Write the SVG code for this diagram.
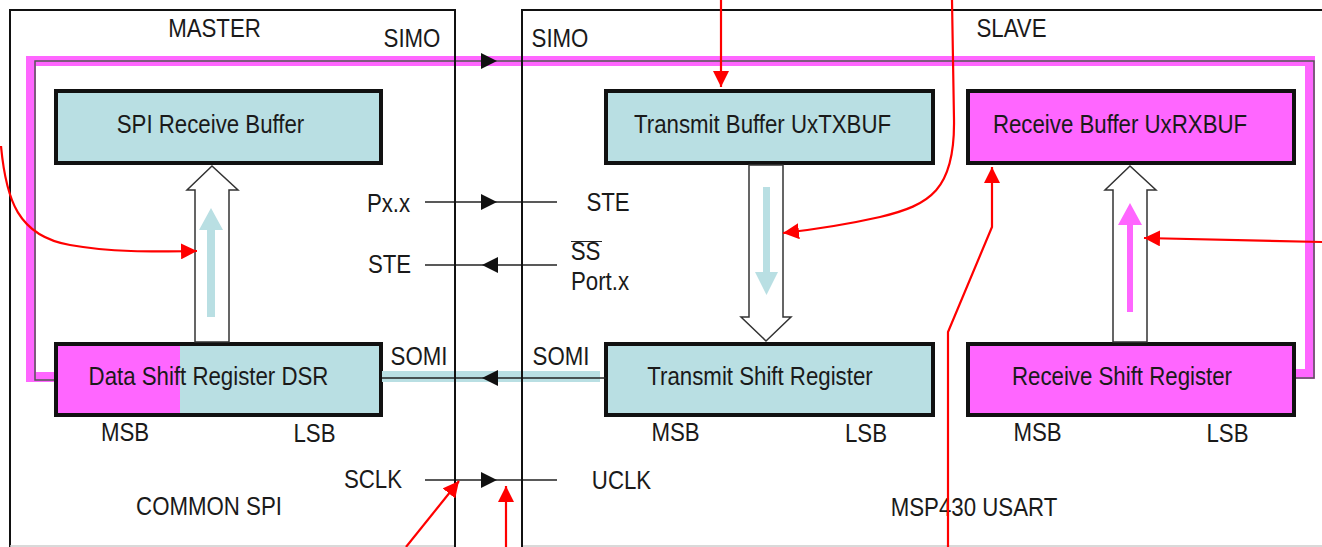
<svg xmlns="http://www.w3.org/2000/svg" width="1322" height="547" viewBox="0 0 1322 547">
<style>
.t{font-family:"Liberation Sans",Arial,sans-serif;font-size:25px;fill:#1a1a1a;text-anchor:middle}
.frame{fill:none;stroke:#111;stroke-width:2}
.box{stroke:#111;stroke-width:4}
.blue{fill:#B9DFE3}
.mag{fill:#FF66FF}
.sig{stroke:#222;stroke-width:1.5;fill:none}
.red{stroke:#FF0000;stroke-width:2.2;fill:none}
.hollow{fill:#fff;stroke:#333;stroke-width:1.5}
</style>
<defs>
<marker id="ra" markerWidth="17" markerHeight="16" refX="16" refY="8" orient="auto" markerUnits="userSpaceOnUse"><path d="M0,0 L16,8 L0,16Z" fill="#FF0000"/></marker>
<path id="tri" d="M0,-8 L16,0 L0,8Z" fill="#111"/>
</defs>
<rect width="1322" height="547" fill="#fff"/>

<g id="loop">
<path d="M55,377 H31 V61 H1310 V374 H1295" fill="none" stroke="#FF66FF" stroke-width="10"/>
<path d="M55,380 H35 V61 H1314 V378 H1295" fill="none" stroke="#555" stroke-width="1.5"/>
</g>

<g id="master">
<path class="frame" d="M10,547 V10 H455 V547"/>
<line x1="10" y1="546" x2="455" y2="546" stroke="#ccc" stroke-width="1.5"/>
<text class="t" transform="matrix(.89 0 0 1 214.5 37)">MASTER</text>
<text class="t" transform="matrix(.89 0 0 1 412 47)">SIMO</text>
<text class="t" transform="matrix(.89 0 0 1 209 515)">COMMON SPI</text>
</g>

<g id="slave">
<path class="frame" d="M522,547 V10 H1322"/>
<line x1="522" y1="546" x2="1322" y2="546" stroke="#ccc" stroke-width="1.5"/>
<text class="t" transform="matrix(.89 0 0 1 560 47)">SIMO</text>
<text class="t" transform="matrix(.89 0 0 1 1011.5 37)">SLAVE</text>
<text class="t" transform="matrix(.89 0 0 1 974 516)">MSP430 USART</text>
</g>

<g id="spi-receive-buffer">
<rect class="box blue" x="56" y="91" width="325" height="72"/>
<text class="t" transform="matrix(.89 0 0 1 210.5 133)">SPI Receive Buffer</text>
</g>

<g id="transmit-buffer">
<rect class="box blue" x="606" y="91" width="327" height="72"/>
<text class="t" transform="matrix(.89 0 0 1 762.5 133)">Transmit Buffer UxTXBUF</text>
</g>

<g id="receive-buffer">
<rect class="box mag" x="968" y="91" width="326" height="72"/>
<text class="t" transform="matrix(.89 0 0 1 1120 133)">Receive Buffer UxRXBUF</text>
</g>

<g id="data-shift-register">
<rect class="blue" x="56" y="344" width="325" height="71"/>
<rect class="mag" x="56" y="344" width="124" height="71"/>
<rect class="box" x="56" y="344" width="325" height="71" fill="none"/>
<text class="t" transform="matrix(.89 0 0 1 208.5 385)">Data Shift Register DSR</text>
<text class="t" transform="matrix(.89 0 0 1 125 441)">MSB</text>
<text class="t" transform="matrix(.89 0 0 1 314.5 442)">LSB</text>
</g>

<g id="transmit-shift-register">
<rect class="box blue" x="606" y="344" width="327" height="71"/>
<text class="t" transform="matrix(.89 0 0 1 760 385)">Transmit Shift Register</text>
<text class="t" transform="matrix(.89 0 0 1 675.5 441)">MSB</text>
<text class="t" transform="matrix(.89 0 0 1 866 442)">LSB</text>
</g>

<g id="receive-shift-register">
<rect class="box mag" x="968" y="344" width="326" height="71"/>
<text class="t" transform="matrix(.89 0 0 1 1122 385)">Receive Shift Register</text>
<text class="t" transform="matrix(.89 0 0 1 1037.5 441)">MSB</text>
<text class="t" transform="matrix(.89 0 0 1 1227.5 442)">LSB</text>
</g>

<g id="connectors">
<polygon class="hollow" points="195,342 195,190 187,190 212,166 238,190 229,190 229,342"/>
<polygon class="blue" points="207,317 207,230 199,230 211,208 223,230 215,230 215,317"/>
<polygon class="hollow" points="749,165 749,317 741,317 766,341 791,317 783,317 783,165"/>
<polygon class="blue" points="763,187 770,187 770,272 778,272 766.5,295 755,272 763,272"/>
<polygon class="hollow" points="1113,342 1113,190 1105,190 1130,166 1156,190 1147,190 1147,342"/>
<polygon class="mag" points="1127,312 1127,225 1118,225 1130,203 1142,225 1133,225 1133,312"/>

<use href="#tri" x="481" y="61"/>

<line class="sig" x1="425" y1="202" x2="557" y2="202"/>
<use href="#tri" x="481" y="202"/>
<text class="t" transform="matrix(.89 0 0 1 388.5 212)">Px.x</text>
<text class="t" transform="matrix(.89 0 0 1 608 211)">STE</text>

<line class="sig" x1="425" y1="265" x2="557" y2="265"/>
<use href="#tri" transform="translate(498,265) scale(-1,1)"/>
<text class="t" transform="matrix(.89 0 0 1 389.5 273)">STE</text>
<text class="t" transform="matrix(.89 0 0 1 585.5 260)">SS</text>
<line x1="571" y1="241.5" x2="602" y2="241.5" stroke="#222" stroke-width="1"/>
<text class="t" transform="matrix(.89 0 0 1 600 290)">Port.x</text>

<rect class="blue" x="382" y="371" width="218" height="11"/>
<line class="sig" x1="382" y1="378" x2="606" y2="378"/>
<use href="#tri" transform="translate(498,378) scale(-1,1)"/>
<text class="t" transform="matrix(.89 0 0 1 419 365)">SOMI</text>
<text class="t" transform="matrix(.89 0 0 1 561 365)">SOMI</text>

<line class="sig" x1="425" y1="480" x2="557" y2="480"/>
<use href="#tri" x="481" y="480"/>
<text class="t" transform="matrix(.89 0 0 1 373 488)">SCLK</text>
<text class="t" transform="matrix(.89 0 0 1 621.5 489)">UCLK</text>

<line x1="455" y1="10" x2="455" y2="547" stroke="#111" stroke-width="2"/>
<line x1="522" y1="10" x2="522" y2="547" stroke="#111" stroke-width="2"/>

<path class="red" marker-end="url(#ra)" d="M1,146 C6,200 18,236 70,245 C110,252 150,252 197,251"/>
<path class="red" marker-end="url(#ra)" d="M721,0 V87"/>
<path class="red" marker-end="url(#ra)" d="M952,0 L954,120 C955,190 930,205 880,217 C840,226 810,230 783,233"/>
<path class="red" marker-end="url(#ra)" d="M948,547 V332 L992,227 V167"/>
<path class="red" marker-end="url(#ra)" d="M1322,242 L1144,238"/>
<path class="red" marker-end="url(#ra)" d="M406,547 L459,481"/>
<path class="red" marker-end="url(#ra)" d="M506,547 V486"/>
</g>
</svg>
